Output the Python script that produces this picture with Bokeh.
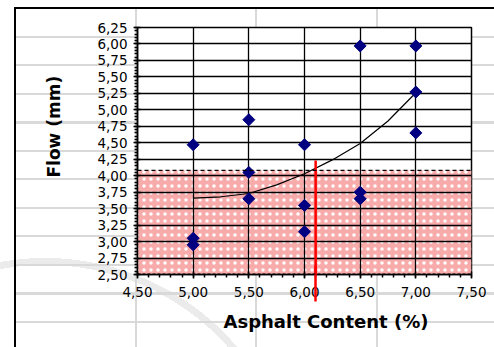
import math
from bokeh.plotting import figure
from bokeh.models import (FixedTicker, CustomJSTickFormatter, BoxAnnotation, Span,
                          Range1d, LinearAxis, Title)
from bokeh.embed import file_html
from bokeh.resources import INLINE

# ---- data ----
asphalt = [5.0, 5.0, 5.0, 5.5, 5.5, 5.5, 6.0, 6.0, 6.0, 6.5, 6.5, 6.5, 7.0, 7.0, 7.0]
flow = [4.47, 3.05, 2.95, 4.85, 4.05, 3.65, 4.47, 3.55, 3.15, 5.97, 3.75, 3.65, 5.97, 5.27, 4.65]
trend_x = [5.0, 5.25, 5.5, 5.75, 6.0, 6.25, 6.5, 6.75, 7.0]
trend_y = [3.66, 3.68, 3.73, 3.86, 4.03, 4.24, 4.49, 4.83, 5.26]
x_ticks = [4.5, 5.0, 5.5, 6.0, 6.5, 7.0, 7.5]
y_ticks = [2.5, 2.75, 3.0, 3.25, 3.5, 3.75, 4.0, 4.25, 4.5, 4.75, 5.0, 5.25, 5.5, 5.75, 6.0, 6.25]
spec_low, spec_high = 2.50, 4.08
optimum_ac = 6.10
optimum_line_top = 4.23

W, H = 494, 347
FL, FR, FT, FB = 137, 471, 27, 274          # frame edges in canvas pixels

p = figure(width=W, height=H, x_range=Range1d(4.5, 7.5), y_range=Range1d(2.5, 6.25),
           output_backend="svg", toolbar_location=None,
           min_border_left=FL, min_border_right=W - FR, min_border_top=FT,
           min_border_bottom=H - FB)
p.background_fill_color = "white"
p.border_fill_color = None
p.outline_line_color = "black"
p.outline_line_width = 1.5

# worksheet-like background behind the chart (pure decoration, CSS)
p.styles = {
    "background-color": "white",
    "background-image": ", ".join([
        "linear-gradient(#000, #000)",
        "linear-gradient(#000, #000)",
        "repeating-linear-gradient(to bottom, #d9d9d9 0px, #d9d9d9 2px, transparent 2px, transparent 28.5px)",
        "repeating-linear-gradient(to right, #d9d9d9 0px, #d9d9d9 2px, transparent 2px, transparent 120.5px)",
        "radial-gradient(circle at 45px 510px, transparent 245px, #ebebeb 245px, #ebebeb 252px, transparent 252px)",
    ]),
    "background-position": "14px 7px, 14px 7px, 15px 35.5px, 135px 8px, 0px 0px",
    "background-size": "2px 100%, 100% 2px, 100% 100%, 100% 100%, 100% 100%",
    "background-repeat": "no-repeat",
}

fmt = CustomJSTickFormatter(code="return tick.toFixed(2).replace('.', ',');")
xminor = [round(4.5 + 0.1 * i, 2) for i in range(31)]
yminor = [round(2.5 + 0.05 * i, 2) for i in range(76)]
p.xaxis.ticker = FixedTicker(ticks=x_ticks, minor_ticks=xminor)
p.yaxis.ticker = FixedTicker(ticks=y_ticks, minor_ticks=yminor)
for ax in (p.xaxis[0], p.yaxis[0]):
    ax.formatter = fmt
    ax.major_label_text_font = "DejaVu Sans"
    ax.major_label_text_font_size = "13.5px"
    ax.major_label_text_color = "black"
    ax.axis_line_color = "black"
    ax.axis_line_width = 1.5
    ax.major_tick_line_color = "black"
    ax.major_tick_line_width = 1.5
    ax.minor_tick_line_color = "black"
    ax.minor_tick_line_width = 1.5
    ax.major_tick_out = 4
    ax.major_tick_in = 3
    ax.minor_tick_out = 3
    ax.minor_tick_in = 0
p.yaxis.major_label_standoff = 6
p.xaxis.major_label_standoff = 8

p.xgrid.ticker = FixedTicker(ticks=[5.0, 5.5, 6.0, 6.5, 7.0])
p.grid.grid_line_color = "black"
p.grid.grid_line_width = 1.3
p.grid.grid_line_alpha = 1.0

# pink specification band
band = BoxAnnotation(bottom=spec_low, top=spec_high, level="image",
                     fill_color="#f8abab", fill_alpha=1.0,
                     hatch_pattern="dot", hatch_color="white", hatch_scale=7,
                     hatch_weight=1.2, line_color=None)
p.add_layout(band)
p.add_layout(Span(location=spec_high, dimension="width", line_color="black",
                  line_width=1.3, line_dash="4 3"))
p.add_layout(Span(location=spec_low, dimension="width", line_color="black",
                  line_width=2, line_dash="3 2"))

# trend line and points
p.line(trend_x, trend_y, line_color="black", line_width=1.2)
p.scatter(asphalt, flow, marker="square", angle=math.pi / 4, size=8.5,
          fill_color="#000080", line_color="#000080")

# optimum asphalt content: red line inside the frame ...
p.segment(x0=[optimum_ac], y0=[optimum_line_top], x1=[optimum_ac], y1=[2.5],
          line_color="red", line_width=2.5)
# ... and its continuation below the frame, drawn as a red tick of a bare axis
red_axis = LinearAxis(ticker=FixedTicker(ticks=[optimum_ac], minor_ticks=[]),
                      axis_line_color=None, major_tick_line_color="red",
                      major_tick_line_width=2.5, major_tick_in=34, major_tick_out=2,
                      minor_tick_line_color=None, major_label_text_font_size="1px",
                      major_label_text_alpha=0, major_label_standoff=0,
                      major_label_overrides={optimum_ac: ""})
p.add_layout(red_axis, "below")

# axis titles
p.add_layout(Title(text="Asphalt Content  (%)", align="left", offset=86, standoff=14,
                   text_font="DejaVu Sans", text_font_style="bold",
                   text_font_size="18px", text_color="black"), "below")
p.add_layout(Title(text="Flow (mm)", align="left", offset=97, standoff=62,
                   text_font="DejaVu Sans", text_font_style="bold",
                   text_font_size="17px", text_color="black"), "left")

open("out.html", "w").write(file_html(p, INLINE))
